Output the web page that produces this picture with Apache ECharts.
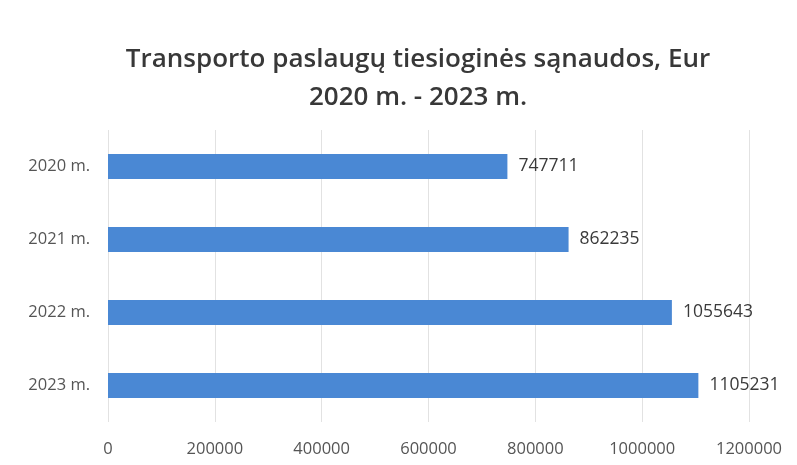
<!DOCTYPE html>
<html><head><meta charset="utf-8">
<script src="https://cdn.jsdelivr.net/npm/echarts@6/dist/echarts.min.js"></script>
<style>html,body{margin:0;padding:0;background:#fff}#c{width:797px;height:465px}</style>
</head><body><div id="c"></div>
<script>
const categories = ['2020 m.', '2021 m.', '2022 m.', '2023 m.'];
const values = [747711, 862235, 1055643, 1105231];
const xTicks = [0, 200000, 400000, 600000, 800000, 1000000, 1200000];
const titleText = 'Transporto paslaugų tiesioginės sąnaudos, Eur\n2020 m. - 2023 m.';

const chart = echarts.init(document.getElementById('c'), null, {renderer: 'canvas'});
chart.setOption({
  backgroundColor: '#fff',
  animation: false,
  title: {
    text: titleText,
    left: 413, top: 36, textAlign: 'center',
    textStyle: {fontFamily: 'Open Sans', fontSize: 26, fontWeight: 600, color: '#383838', lineHeight: 38}
  },
  grid: {left: 108, right: 48, top: 130, bottom: 43, containLabel: false},
  xAxis: {
    type: 'value', min: xTicks[0], max: xTicks[xTicks.length - 1], interval: 200000,
    axisLine: {show: false}, axisTick: {show: false},
    splitLine: {show: true, lineStyle: {color: '#e2e2e2', width: 1}},
    axisLabel: {margin: 19, color: '#555', fontFamily: 'Open Sans', fontSize: 16.5, formatter: v => String(v)}
  },
  yAxis: {
    type: 'category', data: categories, inverse: true,
    axisLine: {show: false}, axisTick: {show: false},
    axisLabel: {margin: 18, color: '#555', fontFamily: 'Open Sans', fontSize: 16.5}
  },
  series: [{
    type: 'bar', data: values, barWidth: '34%',
    itemStyle: {color: '#4a88d4'},
    label: {show: true, position: 'right', distance: 11, color: '#3a3a3a', fontFamily: 'Open Sans', fontSize: 17.5}
  }]
});
</script></body></html>
